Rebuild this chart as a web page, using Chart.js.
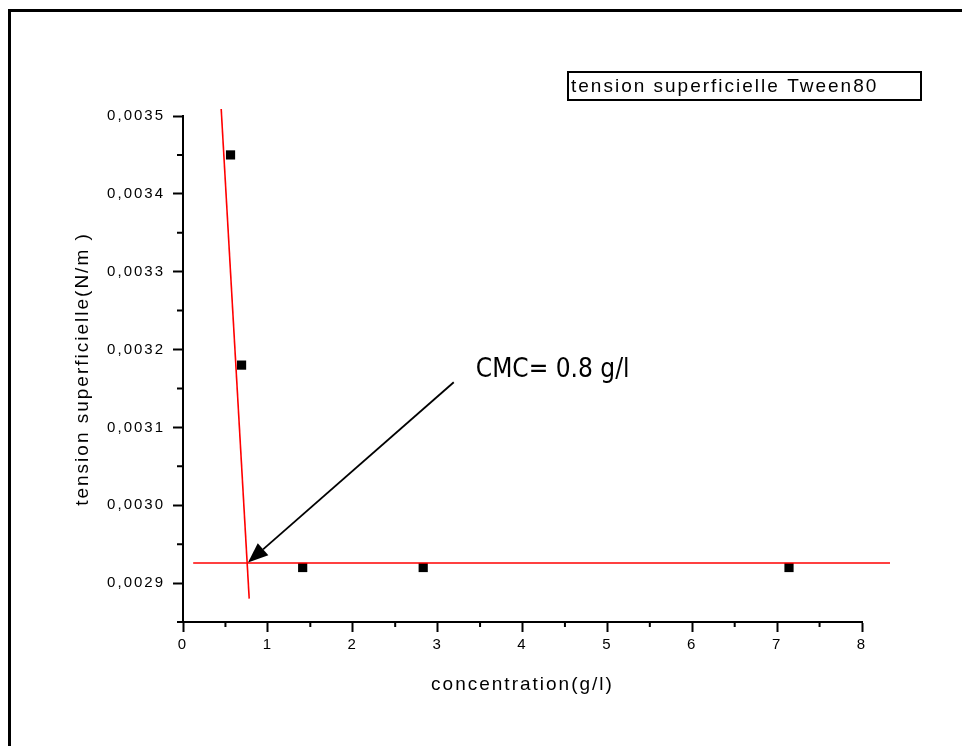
<!DOCTYPE html>
<html>
<head>
<meta charset="utf-8">
<script src="https://cdn.jsdelivr.net/npm/chart.js@4/dist/chart.umd.min.js"></script>
<style>
  body { margin: 0; background: #fff; }
  #wrap { width: 962px; height: 746px; position: relative; }
</style>
</head>
<body>
<div id="wrap"><canvas id="cmc-chart"></canvas></div>
<script>
const concentration = [0.56, 0.69, 1.41, 2.83, 7.14]; // g/l
const tension = [0.00345, 0.00318, 0.00292, 0.00292, 0.00292]; // N/m

// droites tracées à la main (pente + plateau)
const steepFitX = [0.45, 0.78];
const steepFitY = [0.003509, 0.00288];
const plateauFitX = [0.12, 8.33];
const plateauFitY = [0.0029257, 0.0029257];

// flèche et texte CMC (coordonnées en données)
const arrowFrom = [3.19, 0.003158];
const arrowTo = [0.766, 0.0029264];
const cmcLabelPos = [3.45, 0.0031648];
const cmcLabel = "CMC= 0.8 g/l";

// graduations secondaires
const minorTicksX = [0.5, 1.5, 2.5, 3.5, 4.5, 5.5, 6.5, 7.5];
const minorTicksY = [0.00285, 0.00295, 0.00305, 0.00315, 0.00325, 0.00335, 0.00345];

const legendText = "tension superficielle Tween80";
const xTitle = "concentration(g/l)";
const yTitle = "tension superficielle(N/m )";

const toPoints = (xs, ys) => xs.map((x, i) => ({ x: x, y: ys[i] }));

// espacement des lettres comme dans l'export d'Origin
const letterSpacingPlugin = {
  id: "letterSpacing",
  beforeDraw(chart) {
    chart.ctx.letterSpacing = "2px";
  },
};

// cadre, graduations secondaires, flèche, texte CMC, légende
const decorPlugin = {
  id: "decor",
  afterDraw(chart) {
    const ctx = chart.ctx;
    const xs = chart.scales.x;
    const ys = chart.scales.y;
    const area = chart.chartArea;
    ctx.save();

    // cadre extérieur
    ctx.strokeStyle = "#000";
    ctx.lineWidth = 3;
    ctx.strokeRect(9.5, 10.5, 1100, 1000);

    // petites graduations
    ctx.lineWidth = 2;
    ctx.beginPath();
    minorTicksX.forEach((v) => {
      const px = xs.getPixelForValue(v);
      ctx.moveTo(px, area.bottom);
      ctx.lineTo(px, area.bottom + 5);
    });
    minorTicksY.forEach((v) => {
      const py = ys.getPixelForValue(v);
      ctx.moveTo(area.left, py);
      ctx.lineTo(area.left - 6, py);
    });
    ctx.stroke();

    // flèche
    const x1 = xs.getPixelForValue(arrowFrom[0]);
    const y1 = ys.getPixelForValue(arrowFrom[1]);
    const x2 = xs.getPixelForValue(arrowTo[0]);
    const y2 = ys.getPixelForValue(arrowTo[1]);
    const ang = Math.atan2(y2 - y1, x2 - x1);
    const headLen = 20;
    const headHalf = 8;
    const bx = x2 - headLen * Math.cos(ang);
    const by = y2 - headLen * Math.sin(ang);
    ctx.beginPath();
    ctx.moveTo(x1, y1);
    ctx.lineTo(bx, by);
    ctx.lineWidth = 1.8;
    ctx.stroke();
    ctx.beginPath();
    ctx.moveTo(x2, y2);
    ctx.lineTo(bx + headHalf * Math.sin(ang), by - headHalf * Math.cos(ang));
    ctx.lineTo(bx - headHalf * Math.sin(ang), by + headHalf * Math.cos(ang));
    ctx.closePath();
    ctx.fillStyle = "#000";
    ctx.fill();

    // texte CMC
    ctx.letterSpacing = "0px";
    ctx.font = '26px "Liberation Sans Narrow", "DejaVu Sans Condensed", sans-serif';
    ctx.textAlign = "left";
    ctx.textBaseline = "alphabetic";
    ctx.fillText(cmcLabel, xs.getPixelForValue(cmcLabelPos[0]), ys.getPixelForValue(cmcLabelPos[1]));

    // boîte de légende
    ctx.lineWidth = 2;
    ctx.strokeRect(568, 72, 353, 28);
    ctx.letterSpacing = "2px";
    ctx.font = '19px "Liberation Sans", Arial, sans-serif';
    ctx.fillText(legendText, 571, 92);

    ctx.restore();
  },
};

const ctx = document.getElementById("cmc-chart").getContext("2d");

new Chart(ctx, {
  type: "scatter",
  data: {
    datasets: [
      {
        label: "pente",
        data: toPoints(steepFitX, steepFitY),
        showLine: true,
        borderColor: "#ff0000",
        borderWidth: 1.6,
        pointRadius: 0,
        clip: false,
      },
      {
        label: "plateau",
        data: toPoints(plateauFitX, plateauFitY),
        showLine: true,
        borderColor: "#ff0000",
        borderWidth: 1.6,
        pointRadius: 0,
        clip: false,
      },
      {
        label: legendText,
        data: toPoints(concentration, tension),
        pointStyle: "rect",
        pointRadius: 6.5,
        backgroundColor: "#000",
        borderColor: "#000",
        borderWidth: 0,
      },
    ],
  },
  options: {
    responsive: true,
    maintainAspectRatio: false,
    animation: false,
    layout: {
      padding: { left: 0, top: 116, right: 100, bottom: 0 },
    },
    plugins: {
      legend: { display: false },
      tooltip: { enabled: false },
    },
    scales: {
      x: {
        type: "linear",
        min: 0,
        max: 8,
        afterFit: (scale) => {
          scale.height = 124;
        },
        border: { display: true, color: "#000", width: 2 },
        grid: {
          drawOnChartArea: false,
          drawTicks: true,
          tickLength: 10,
          tickColor: "#000",
          tickWidth: 2,
        },
        ticks: {
          stepSize: 1,
          padding: 4,
          color: "#000",
          font: { family: '"Liberation Sans", Arial, sans-serif', size: 15 },
          maxRotation: 0,
        },
        title: {
          display: true,
          text: xTitle,
          color: "#000",
          font: { family: '"Liberation Sans", Arial, sans-serif', size: 19 },
          padding: { top: 0, bottom: 50 },
        },
      },
      y: {
        type: "linear",
        min: 0.00285,
        max: 0.0035,
        afterFit: (scale) => {
          scale.width = 183;
        },
        border: { display: true, color: "#000", width: 2 },
        grid: {
          drawOnChartArea: false,
          drawTicks: true,
          tickLength: 10,
          tickColor: "#000",
          tickWidth: 2,
        },
        ticks: {
          stepSize: 0.0001,
          includeBounds: false,
          padding: 8,
          color: "#000",
          font: { family: '"Liberation Sans", Arial, sans-serif', size: 15 },
          callback: (value) => value.toFixed(4).replace(".", ","),
        },
        title: {
          display: true,
          text: yTitle,
          color: "#000",
          font: { family: '"Liberation Sans", Arial, sans-serif', size: 19 },
          padding: { top: 71, bottom: 0 },
        },
      },
    },
  },
  plugins: [letterSpacingPlugin, decorPlugin],
});
</script>
</body>
</html>
